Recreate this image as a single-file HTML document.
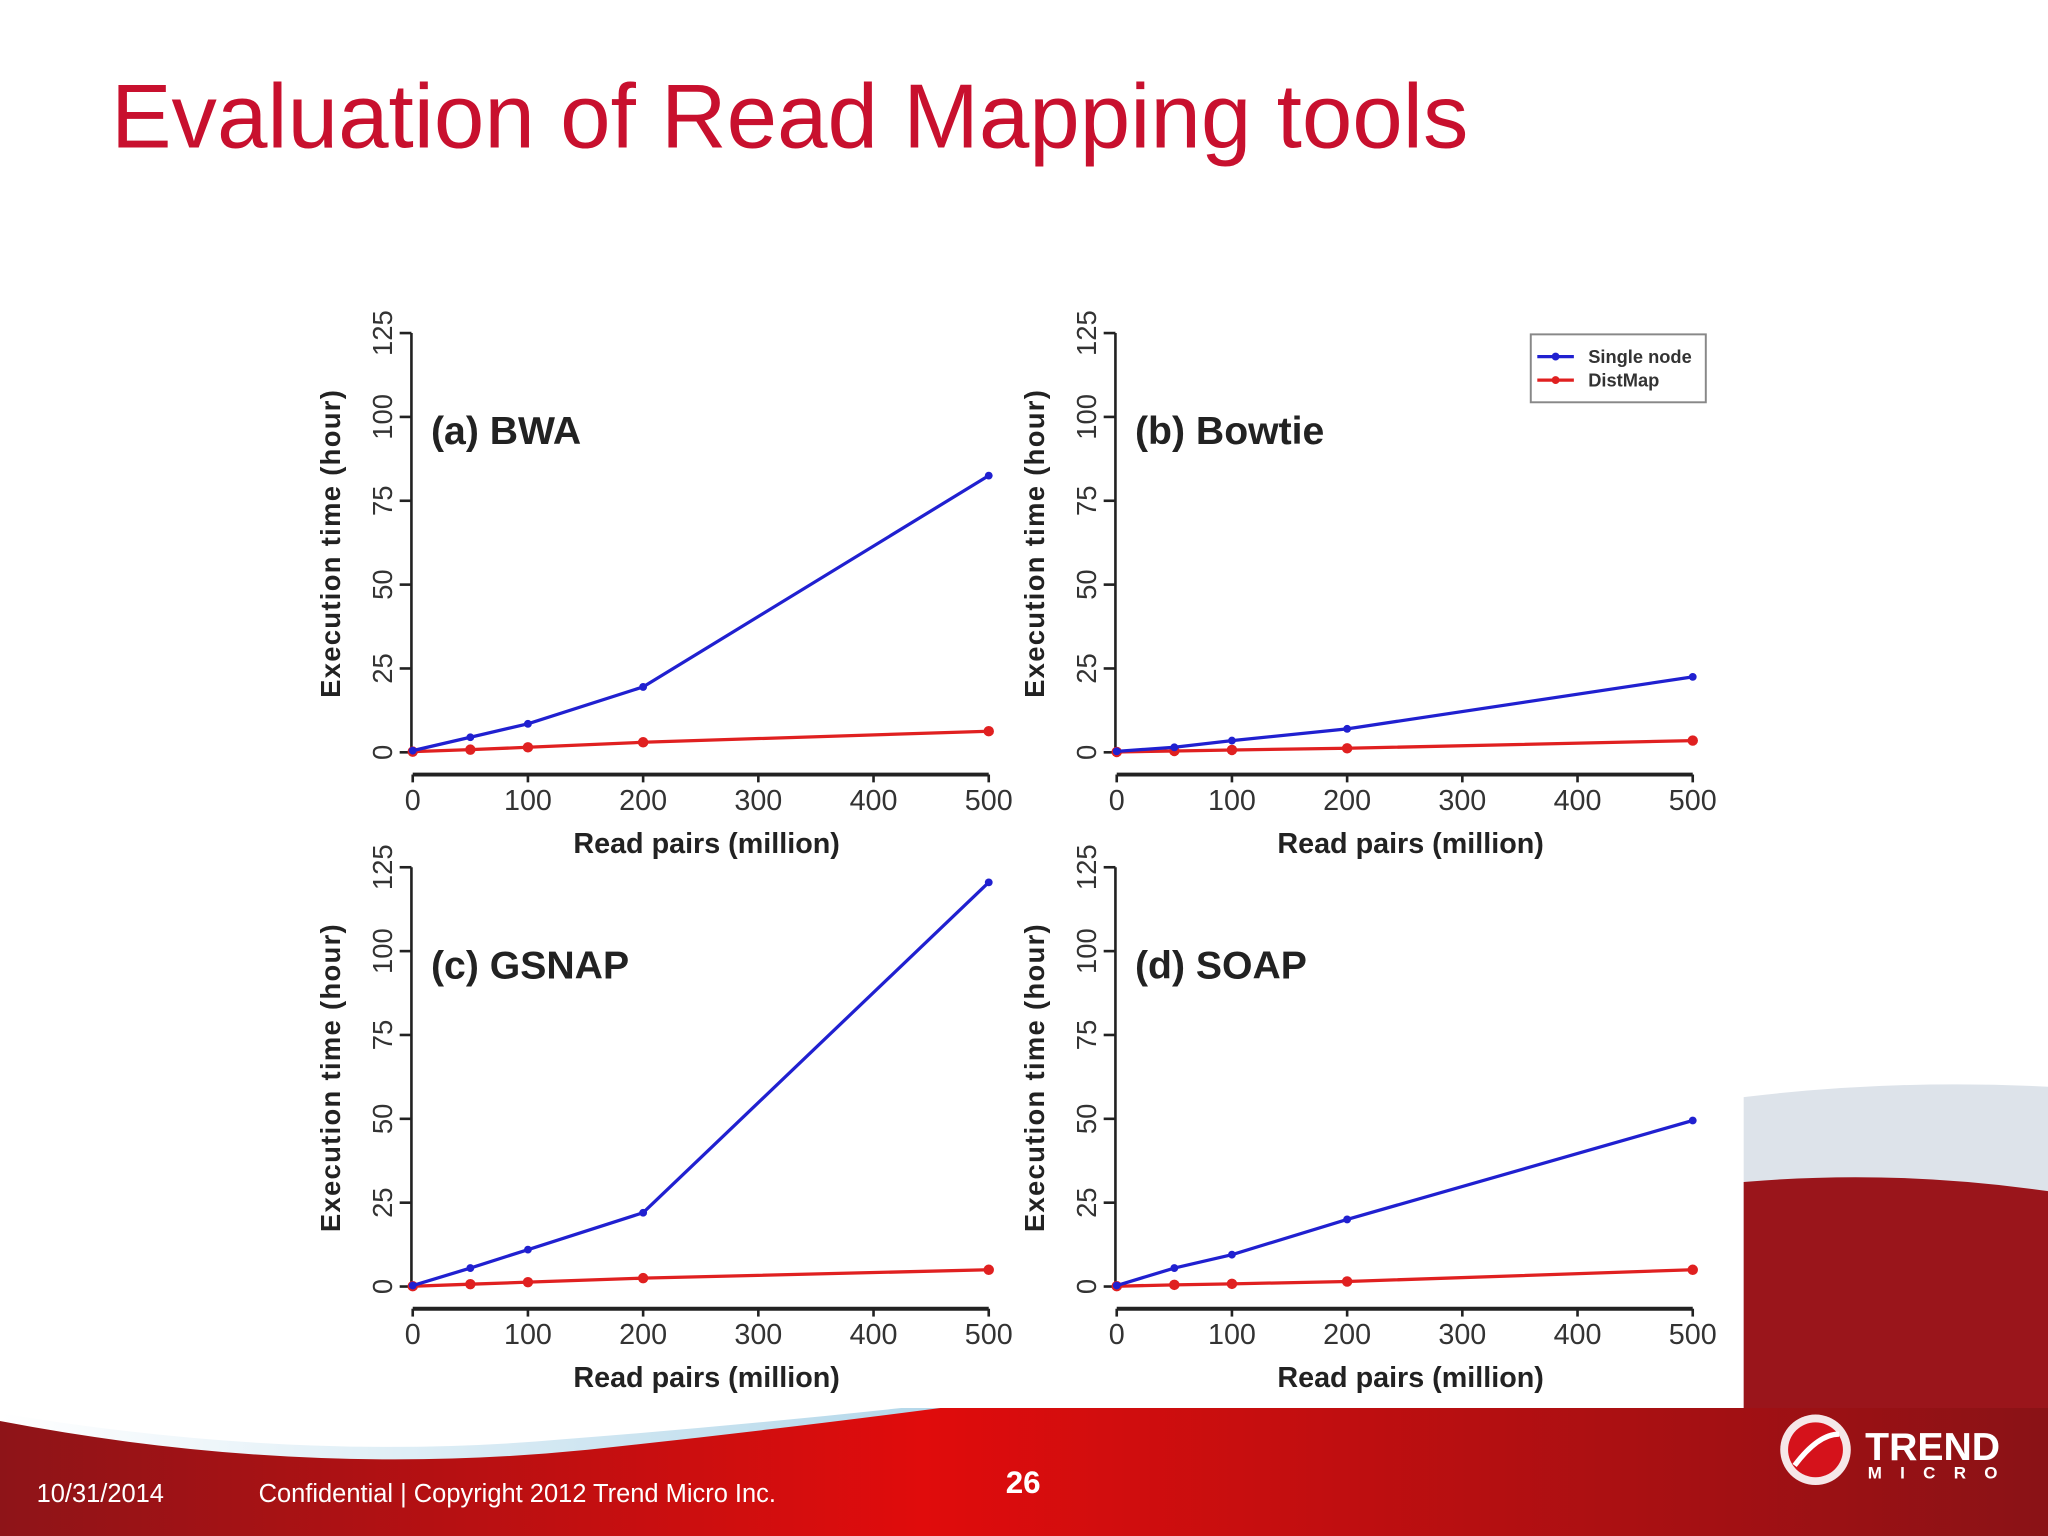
<!DOCTYPE html>
<html><head><meta charset="utf-8"><style>
html,body{margin:0;padding:0;background:#fff;width:2048px;height:1536px;overflow:hidden}
svg{display:block}
text{font-family:"Liberation Sans",sans-serif}
</style></head><body>
<svg id="slide" width="2048" height="1536" viewBox="0 0 1568 1176" xmlns="http://www.w3.org/2000/svg">
<defs>
<linearGradient id="redg" x1="0" y1="0" x2="1" y2="0">
<stop offset="0" stop-color="#8e1418"/><stop offset="0.45" stop-color="#e00c0c"/><stop offset="1" stop-color="#8a1216"/>
</linearGradient>
<linearGradient id="blueg" x1="0" y1="0" x2="1" y2="0">
<stop offset="0" stop-color="#ffffff"/><stop offset="0.6" stop-color="#9ccbe3"/><stop offset="1" stop-color="#d7ecf5"/>
</linearGradient>
</defs>
<g>
<path d="M1335 840 Q1450 826 1568 832 L1568 1176 L1335 1176 Z" fill="#dde3ea"/>
<path d="M1335 905 Q1450 895 1568 912 L1568 1176 L1335 1176 Z" fill="#9a151b"/>
<path d="M0 1082 Q230 1120 430 1102 Q560 1092 690 1078 L1568 1078 L1568 1176 L0 1176 Z" fill="url(#blueg)"/>
<path d="M0 1088 Q230 1132 450 1110 Q590 1095 720 1078 L1568 1078 L1568 1176 L0 1176 Z" fill="url(#redg)"/>
</g>
<text x="85" y="113" font-size="69.5" fill="#c8102e">Evaluation of Read Mapping tools</text>
<g id="charts"></g>
<g fill="#fff">
<text x="28" y="1150" font-size="19.5">10/31/2014</text>
<text x="198" y="1150" font-size="19.5">Confidential | Copyright 2012 Trend Micro Inc.</text>
<text x="770" y="1143" font-size="24" font-weight="bold">26</text>
</g>
<g>
<circle cx="1390" cy="1110" r="27" fill="#fff" opacity="0.9"/>
<circle cx="1390" cy="1110" r="21" fill="#d5121b"/>
<path d="M1374 1122 Q1392 1098 1408 1098" stroke="#fff" stroke-width="4" fill="none"/>
<text x="1428" y="1118" font-size="30" font-weight="bold" fill="#fff">TREND</text>
<text x="1430" y="1132" font-size="13" font-weight="bold" fill="#fff" letter-spacing="14">MICRO</text>
</g>
</svg>
<script>
const xValues=[0,50,100,200,500];
const bwaSingle=[0.5,4.5,8.5,19.5,82.5];
const bwaDist=[0.2,0.8,1.5,3,6.3];
const bowtieSingle=[0.3,1.5,3.5,7,22.5];
const bowtieDist=[0.1,0.4,0.7,1.2,3.5];
const gsnapSingle=[0.3,5.5,11,22,120.5];
const gsnapDist=[0.1,0.7,1.3,2.5,5];
const soapSingle=[0.3,5.5,9.5,20,49.5];
const soapDist=[0.1,0.5,0.8,1.5,5];
const yTicks=[0,25,50,75,100,125];
const xTicks=[0,100,200,300,400,500];
const panelTitles=["(a) BWA","(b) Bowtie","(c) GSNAP","(d) SOAP"];
const panels=[
 {x0:316,y0:576,single:bwaSingle,dist:bwaDist,key:'bwa'},
 {x0:855,y0:576,single:bowtieSingle,dist:bowtieDist,key:'bowtie'},
 {x0:316,y0:985,single:gsnapSingle,dist:gsnapDist,key:'gsnap'},
 {x0:855,y0:985,single:soapSingle,dist:soapDist,key:'soap'}
];
const NS='http://www.w3.org/2000/svg';
const root=document.getElementById('charts');
function mk(tag,attrs,parent){const e=document.createElementNS(NS,tag);for(const k in attrs)e.setAttribute(k,attrs[k]);parent.appendChild(e);return e;}
const W=441,H=321;
panels.forEach((p,i)=>{
 const g=mk('g',{},root);
 
 
 const sx=v=>p.x0+v/500*W;
 const sy=v=>p.y0-v/125*H;
 const axY=p.y0+17, axX=p.x0-1;
 const ya=mk('line',{x1:axX,y1:sy(0),x2:axX,y2:sy(125),stroke:'#222','stroke-width':2},g);
 
 
 yTicks.forEach(t=>{
  mk('line',{x1:axX-9,y1:sy(t),x2:axX,y2:sy(t),stroke:'#222','stroke-width':2},g);
  const tx=mk('text',{x:axX-22,y:sy(t),'font-size':21,fill:'#333','text-anchor':'middle','dominant-baseline':'central',transform:`rotate(-90 ${axX-22} ${sy(t)})`},g);
  tx.textContent=t;
  
  
 });
 const xa=mk('line',{x1:sx(0),y1:axY,x2:sx(500),y2:axY,stroke:'#222','stroke-width':3},g);
 
 
 xTicks.forEach(t=>{
  mk('line',{x1:sx(t),y1:axY,x2:sx(t),y2:axY+6,stroke:'#222','stroke-width':2},g);
  const tx=mk('text',{x:sx(t),y:axY+27,'font-size':22,fill:'#333','text-anchor':'middle'},g);
  tx.textContent=t;
  
  
 });
 const yt=mk('text',{x:p.x0-63,y:p.y0-160,'font-size':21,'font-weight':'bold',fill:'#222','text-anchor':'middle','dominant-baseline':'central','letter-spacing':1,transform:`rotate(-90 ${p.x0-63} ${p.y0-160})`},g);
 yt.textContent='Execution time (hour)';
 
 
 const xt=mk('text',{x:p.x0+225,y:p.y0+77,'font-size':22,'font-weight':'bold',fill:'#222','text-anchor':'middle'},g);
 xt.textContent='Read pairs (million)';
 
 
 const pt=mk('text',{x:p.x0+14,y:p.y0-236,'font-size':30,'font-weight':'bold',fill:'#222'},g);
 pt.textContent=panelTitles[i];
 
 
 [[p.dist,'#e02020','distmap'],[p.single,'#2020d0','single-node']].forEach(([arr,col,nm])=>{
  const pts=arr.map((v,j)=>sx(xValues[j])+','+sy(v)).join(' ');
  const l=mk('polyline',{points:pts,fill:'none',stroke:col,'stroke-width':2.5},g);
  
  
  arr.forEach((v,j)=>{
   const c=mk('circle',{cx:sx(xValues[j]),cy:sy(v),r:nm==='distmap'?4:3,fill:col},g);
   
   
  });
 });
});
const lg=mk('g',{},root);


mk('rect',{x:1172,y:256,width:134,height:52,fill:'#fff',stroke:'#888','stroke-width':1.5},lg);
[['Single node','#2020d0',273],['DistMap','#e02020',291]].forEach(([lab,col,y])=>{
 const e=mk('g',{},lg);
 
 
 mk('line',{x1:1177,y1:y,x2:1205,y2:y,stroke:col,'stroke-width':2.5},e);
 mk('circle',{cx:1191,cy:y,r:3,fill:col},e);
 const t=mk('text',{x:1216,y:y+5,'font-size':14,'font-weight':'bold',fill:'#333'},e);
 t.textContent=lab;
});
</script>
</body></html>
